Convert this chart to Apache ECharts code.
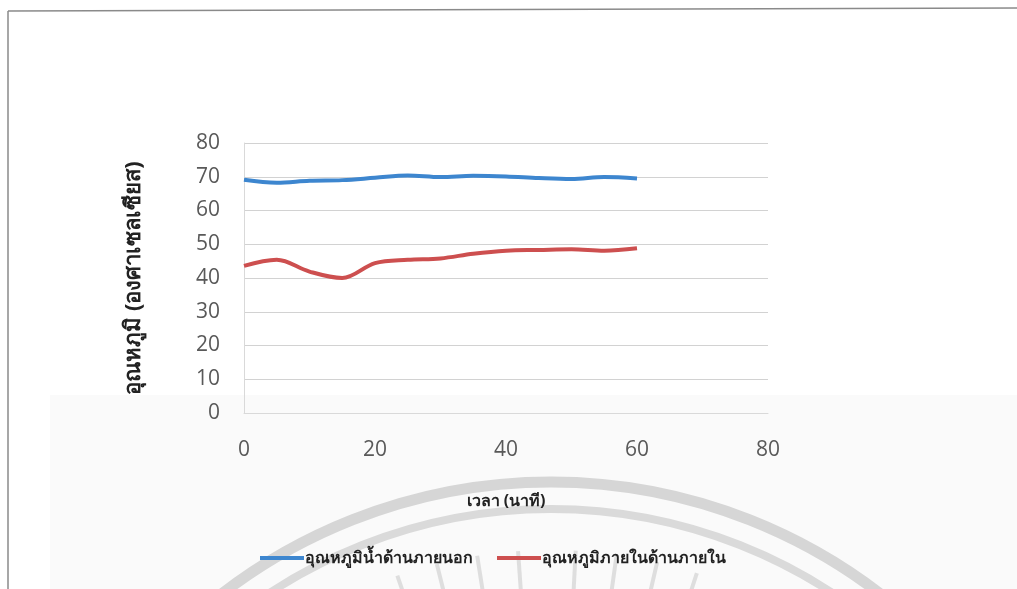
<!DOCTYPE html>
<html>
<head>
<meta charset="utf-8">
<script src="https://cdn.jsdelivr.net/npm/echarts@6/dist/echarts.min.js"></script>
<style>html,body{margin:0;padding:0;background:#fff;}#c{width:1017px;height:589px;}</style>
</head>
<body>
<div id="c"></div>
<script>
var minutes = [0, 5, 10, 15, 20, 25, 30, 35, 40, 45, 50, 55, 60];
var outerTemp = [69.1, 68.2, 68.8, 69.0, 69.7, 70.4, 69.9, 70.3, 70.1, 69.6, 69.3, 69.9, 69.5];
var innerTemp = [43.6, 45.4, 41.9, 40.0, 44.4, 45.4, 45.8, 47.2, 48.1, 48.3, 48.5, 48.1, 48.8];
var seriesNames = ['อุณหภูมิน้ำด้านภายนอก', 'อุณหภูมิภายในด้านภายใน'];
var xTitle = 'เวลา (นาที)';
var yTitle = 'อุณหภูมิ (องศาเซลเซียส)';

function pairs(xs, ys) { return xs.map(function (x, i) { return [x, ys[i]]; }); }

var chart = echarts.init(document.getElementById('c'), null, { renderer: 'canvas' });

var cx = 551, cy = 1022;
var rays = [];
[-19, -14, -9, -4, 3, 8, 13, 18].forEach(function (a) {
  var t = (a - 90) * Math.PI / 180;
  rays.push({
    type: 'line', silent: true, z: -5,
    shape: { x1: cx + 425 * Math.cos(t), y1: cy + 425 * Math.sin(t), x2: cx + 472 * Math.cos(t), y2: cy + 472 * Math.sin(t) },
    style: { stroke: '#dedede', lineWidth: 4 }
  });
});

chart.setOption({
  backgroundColor: '#ffffff',
  animation: false,
  textStyle: { fontFamily: 'Open Sans, Noto Sans, sans-serif' },
  graphic: [
    { type: 'rect', silent: true, z: -10, shape: { x: 50, y: 395, width: 967, height: 194 }, style: { fill: '#fafafa' } },
    { type: 'circle', silent: true, z: -5, shape: { cx: cx, cy: cy, r: 540 }, style: { fill: 'none', stroke: '#d6d6d6', lineWidth: 11 } },
    { type: 'circle', silent: true, z: -5, shape: { cx: cx, cy: cy, r: 513 }, style: { fill: 'none', stroke: '#dadada', lineWidth: 8 } }
  ].concat(rays).concat([
    { type: 'line', silent: true, shape: { x1: 8, y1: 11, x2: 8, y2: 589 }, style: { stroke: '#8a8a8a', lineWidth: 1.5 } },
    { type: 'line', silent: true, shape: { x1: 8, y1: 11, x2: 1017, y2: 8 }, style: { stroke: '#8a8a8a', lineWidth: 1.5 } }
  ]),
  grid: { left: 244, right: 249, top: 143, bottom: 176, containLabel: false },
  legend: {
    left: 255, top: 545,
    itemWidth: 44, itemHeight: 4, itemGap: 24,
    icon: 'rect',
    data: seriesNames,
    textStyle: { fontSize: 16, fontWeight: 'bold', color: '#222', padding: [0, 0, 0, -4] }
  },
  xAxis: {
    type: 'value', min: 0, max: 80, interval: 20,
    name: xTitle, nameLocation: 'middle', nameGap: 80,
    nameTextStyle: { fontSize: 16, fontWeight: 'bold', color: '#222' },
    axisLine: { show: true, lineStyle: { color: '#d9d9d9', width: 1 } },
    axisTick: { show: false },
    splitLine: { show: false },
    axisLabel: { margin: 27, fontSize: 21, color: '#595959' }
  },
  yAxis: {
    type: 'value', min: 0, max: 80, interval: 10,
    name: yTitle, nameLocation: 'middle', nameGap: 99,
    nameTextStyle: { fontSize: 22, fontWeight: 'bold', color: '#222' },
    axisLine: { show: true, lineStyle: { color: '#d9d9d9', width: 1 } },
    axisTick: { show: false },
    splitLine: { show: true, lineStyle: { color: '#d2d2d2', width: 1 } },
    axisLabel: { margin: 24, fontSize: 21, color: '#595959' }
  },
  series: [
    { name: seriesNames[0], type: 'line', smooth: 0.35, showSymbol: false, data: pairs(minutes, outerTemp),
      lineStyle: { color: '#3d86cf', width: 4 }, itemStyle: { color: '#3d86cf' } },
    { name: seriesNames[1], type: 'line', smooth: 0.35, showSymbol: false, data: pairs(minutes, innerTemp),
      lineStyle: { color: '#cd4f4f', width: 4 }, itemStyle: { color: '#cd4f4f' } }
  ]
});
</script>
</body>
</html>
